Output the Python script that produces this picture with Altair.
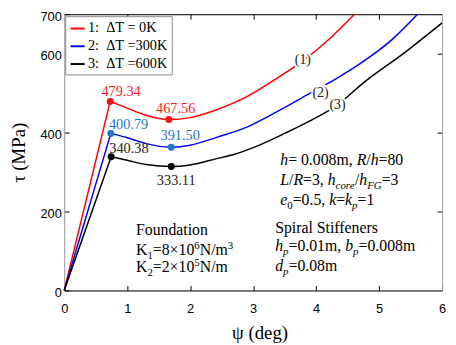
import altair as alt
import pandas as pd

# ---------------- data ----------------
series = ["1:\u00a0\u00a0ΔT = 0K", "2:\u00a0\u00a0ΔT =300K", "3:\u00a0\u00a0ΔT =600K"]

red_x = [0, 0.73, 1.0, 1.3, 1.66, 2.0, 2.42, 2.9, 3.4, 3.8, 4.2, 4.61]
red_y = [0, 479, 462, 444, 433, 438, 458, 491, 540, 583, 636, 700]
blue_x = [0, 0.74, 1.0, 1.3, 1.70, 2.0, 2.42, 2.9, 3.4, 3.94, 4.3, 4.71, 5.2, 5.61]
blue_y = [0, 398, 387, 372, 363, 368, 388, 414, 455, 503, 535, 576, 635, 700]
black_x = [0, 0.745, 1.0, 1.3, 1.70, 2.0, 2.42, 2.7, 3.0, 3.5, 4.0, 4.3, 4.78, 5.4, 6.0]
black_y = [0, 339, 330, 319, 314, 318, 334, 345, 362, 398, 438, 466, 530, 602, 678]

peak_idx = 1          # index of the peak point in each series
min_idx = [4, 4, 4]   # index of the local minimum
value_labels = [["479.34", "467.56"], ["400.79", "391.50"], ["340.38", "333.11"]]
curve_tags = ["(1)", "(2)", "(3)"]
curve_tag_pos = [(3.79, 583), (4.07, 499), (4.34, 469)]

line_colors = ["#ff0000", "#0000ff", "#000000"]
point_colors = ["#ff1010", "#1f78c8", "#000000"]
label_colors = ["#ff1a1a", "#1f78c8", "#222222"]

WIDTH, HEIGHT = 383, 280
PX_X = WIDTH / 6.0
PX_Y = HEIGHT / 700.0
SERIF = "Liberation Serif, Times New Roman, serif"
NARROW = "Liberation Sans Narrow, Arial Narrow, Liberation Sans, Arial, sans-serif"

xs = [red_x, blue_x, black_x]
ys = [red_y, blue_y, black_y]

rise_rows, curve_rows, pt_rows = [], [], []
for s, name in enumerate(series):
    for i, (x, y) in enumerate(zip(xs[s], ys[s])):
        if i <= peak_idx:
            rise_rows.append({"series": name, "x": x, "y": y, "order": i})
        if i >= peak_idx:
            curve_rows.append({"series": name, "x": x, "y": y, "order": i})
    for k, idx in enumerate([peak_idx, min_idx[s]]):
        pt_rows.append({"s": s, "k": k, "x": xs[s][idx], "y": ys[s][idx],
                        "pc": point_colors[s], "label": value_labels[s][k]})

rise_df = pd.DataFrame(rise_rows)
curve_df = pd.DataFrame(curve_rows)
pt_df = pd.DataFrame(pt_rows)

xscale = alt.Scale(domain=[0, 6], nice=False)
yscale = alt.Scale(domain=[0, 700], nice=False)
cscale = alt.Scale(domain=series, range=line_colors)

xaxis = alt.Axis(values=[0, 1, 2, 3, 4, 5, 6], format="d", tickSize={"expr": "-5"}, labelPadding=17,
                 labelFont=NARROW, labelFontSize=13, labelColor="black", tickColor="black",
                 domainColor="black", grid=False, labelFlush=False, title="ψ (deg)",
                 titleFont=SERIF, titleFontSize=19, titleFontWeight="normal", titleColor="black",
                 titlePadding=9, titleX=198)
yaxis = alt.Axis(values=[0, 200, 400, 600, 700], format="d", tickSize={"expr": "-5"}, labelPadding=8,
                 labelOffset=2,
                 labelFont=NARROW, labelFontSize=13, labelColor="black", tickColor="black",
                 domainColor="#a0a0a0", grid=False, labelFlush=False, title="τ (MPa)",
                 titleFont=SERIF, titleFontSize=19, titleFontWeight="normal", titleColor="black",
                 titlePadding=12)

legend = alt.Legend(orient="none", legendX=1, legendY=2, title=None, fillColor="white",
                    strokeColor="#8a8a8a", padding=4, symbolType="stroke", symbolStrokeWidth=2,
                    symbolSize=200, labelFont=SERIF, labelFontSize=14.5, rowPadding=3,
                    labelOffset=2, labelColor="black", symbolOffset=0)

rise = alt.Chart(rise_df).mark_line(strokeWidth=1.5).encode(
    x=alt.X("x:Q", scale=xscale, axis=xaxis),
    y=alt.Y("y:Q", scale=yscale, axis=yaxis),
    color=alt.Color("series:N", scale=cscale, legend=legend),
    order="order:Q",
)
curve = alt.Chart(curve_df).mark_line(strokeWidth=1.5, interpolate="monotone", clip=True).encode(
    x="x:Q", y="y:Q",
    color=alt.Color("series:N", scale=cscale, legend=legend),
    order="order:Q",
)
points = alt.Chart(pt_df).mark_circle(size=50, opacity=1).encode(
    x="x:Q", y="y:Q", color=alt.Color("pc:N", scale=None)
)

# value labels (offsets in px relative to the point)
label_offsets = {(0, 0): (11, -6), (0, 1): (7, -7), (1, 0): (18, -4), (1, 1): (9, -7),
                 (2, 0): (18, -4), (2, 1): (5, 19)}
val_layers = []
for (s, k), (dx, dy) in label_offsets.items():
    sub = pt_df[(pt_df.s == s) & (pt_df.k == k)]
    val_layers.append(
        alt.Chart(sub).mark_text(font=SERIF, fontSize=14.5, align="center", baseline="alphabetic",
                                 dx=dx, dy=dy, color=label_colors[s]).encode(
            x="x:Q", y="y:Q", text="label:N")
    )

tag_df = pd.DataFrame({"x": [p[0] for p in curve_tag_pos], "y": [p[1] for p in curve_tag_pos],
                       "t": curve_tags})
tag_halo = alt.Chart(tag_df).mark_text(font=SERIF, fontSize=14, stroke="white", strokeWidth=4,
                                       color="white", baseline="middle").encode(x="x:Q", y="y:Q", text="t:N")
tag_text = alt.Chart(tag_df).mark_text(font=SERIF, fontSize=14, color="#222",
                                       baseline="middle").encode(x="x:Q", y="y:Q", text="t:N")

# ---------------- rich annotation text ----------------
W_REG = {' ': 250, ',': 250, '.': 250, '/': 278, '=': 564, '×': 564, '(': 333, ')': 333,
         'a': 444, 'b': 500, 'c': 444, 'd': 500, 'e': 444, 'f': 333, 'h': 500, 'i': 278, 'k': 500,
         'l': 278, 'm': 778, 'n': 500, 'o': 500, 'p': 500, 'r': 333, 's': 389, 't': 278, 'u': 500,
         'F': 556, 'G': 722, 'K': 722, 'L': 611, 'N': 722, 'R': 667, 'S': 556}
W_IT = {'b': 500, 'c': 444, 'd': 500, 'e': 444, 'h': 500, 'k': 444, 'o': 500, 'p': 500, 'r': 389,
        'F': 611, 'G': 722, 'L': 556, 'R': 611, '/': 278}
FS = 16
SMALL = 11

ann_lines = [
    ((3.43, 318), [("h", "i"), ("= 0.008m, ", "r"), ("R", "i"), ("/", "r"), ("h", "i"), ("=80", "r")]),
    ((3.43, 268), [("L", "i"), ("/", "r"), ("R", "i"), ("=3, ", "r"), ("h", "i"), ("core", "is"),
                   ("/", "r"), ("h", "i"), ("FG", "is"), ("=3", "r")]),
    ((3.43, 216), [("e", "i"), ("0", "rs"), ("=0.5, ", "r"), ("k", "i"), ("=", "r"), ("k", "i"),
                   ("p", "is"), ("=1", "r")]),
    ((3.35, 146.5), [("Spiral Stiffeners", "r")]),
    ((3.35, 99), [("h", "i"), ("p", "is"), ("=0.01m, ", "r"), ("b", "i"), ("p", "is"), ("=0.008m", "r")]),
    ((3.35, 49.5), [("d", "i"), ("p", "is"), ("=0.08m", "r")]),
    ((1.14, 141.5), [("Foundation", "r")]),
    ((1.14, 90.5), [("K", "r"), ("1", "rs"), ("=8×10", "r"), ("6", "rp"), ("N/m", "r"), ("3", "rp")]),
    ((1.14, 46), [("K", "r"), ("2", "rs"), ("=2×10", "r"), ("5", "rp"), ("N/m", "r")]),
]

ann_rows = []
for (ax, ay), segs in ann_lines:
    off = 0.0
    for text, st in segs:
        italic = st.startswith("i")
        small = st in ("rs", "is", "rp")
        size = SMALL if small else FS
        shift = 0
        if st in ("rs", "is"):
            shift = -4
        elif st == "rp":
            shift = 6
        table = W_IT if italic else W_REG
        w = sum(table.get(c, W_REG.get(c, 500)) for c in text) / 1000.0 * size
        ann_rows.append({"t": text, "x": ax + off / PX_X, "y": ay + shift / PX_Y,
                         "size": size, "italic": italic})
        off += w
ann_df = pd.DataFrame(ann_rows)

ann_reg = alt.Chart(ann_df[~ann_df.italic]).mark_text(
    font=SERIF, align="left", baseline="alphabetic", color="black").encode(
    x="x:Q", y="y:Q", text="t:N", size=alt.Size("size:Q", scale=None))
ann_it = alt.Chart(ann_df[ann_df.italic]).mark_text(
    font=SERIF, fontStyle="italic", align="left", baseline="alphabetic", color="black").encode(
    x="x:Q", y="y:Q", text="t:N", size=alt.Size("size:Q", scale=None))

main = alt.layer(rise, curve, points, *val_layers, tag_halo, tag_text, ann_reg, ann_it)

mirror = alt.Chart(pt_df).mark_point(opacity=0).encode(
    x=alt.X("x:Q", scale=xscale,
            axis=alt.Axis(orient="top", values=[1, 2, 3, 4, 5], labels=False, title=None,
                          tickSize={"expr": "-5"}, tickColor="black", domainColor="black", grid=False)),
    y=alt.Y("y:Q", scale=yscale,
            axis=alt.Axis(orient="right", values=[200, 400, 600], labels=False, title=None,
                          tickSize={"expr": "-5"}, tickColor="black", domainColor="#a0a0a0", grid=False)),
)

chart = alt.layer(main, mirror).resolve_axis(x="independent", y="independent").properties(
    width=WIDTH, height=HEIGHT,
    autosize=alt.AutoSizeParams(type="none"),
    padding={"left": 57, "top": 4, "right": 6, "bottom": 53},
).configure_view(stroke=None).configure(background="white")

chart.save("out.html", embed_options={"renderer": "svg", "actions": False})
